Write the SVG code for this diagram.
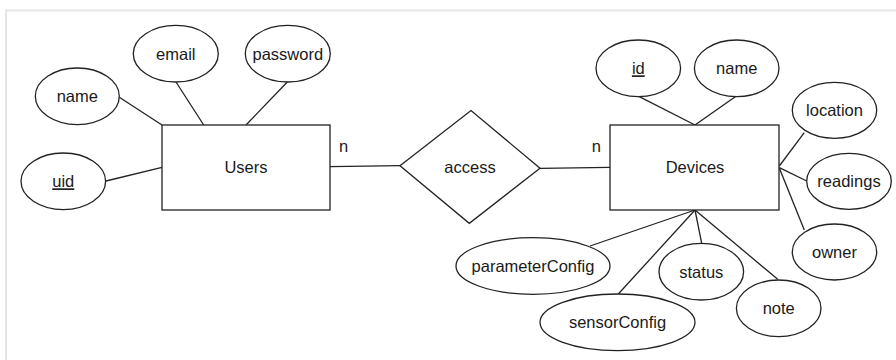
<svg xmlns="http://www.w3.org/2000/svg" width="896" height="360" viewBox="0 0 896 360">
<style>
.shape{fill:#fff;stroke:#222;stroke-width:1.3}
.edge{fill:none;stroke:#222;stroke-width:1.3}
text{font-family:"Liberation Sans",Arial,sans-serif;font-size:16.5px;fill:#1a1a1a;text-anchor:middle}
.key{text-decoration:underline}
</style>
<rect x="6" y="10.5" width="1000" height="500" fill="#fff" stroke="#e6e6e6" stroke-width="2"/>
<g id="connectors">
<line class="edge" x1="119.3" y1="97.3" x2="162" y2="125"/>
<line class="edge" x1="176" y1="82" x2="203.7" y2="125"/>
<line class="edge" x1="287.3" y1="82" x2="246" y2="125"/>
<line class="edge" x1="106" y1="181" x2="162" y2="167.3"/>
<line class="edge" x1="330" y1="166.7" x2="400" y2="165.7"/>
<line class="edge" x1="540" y1="168.3" x2="610" y2="167.3"/>
<line class="edge" x1="639.3" y1="96.7" x2="695" y2="125"/>
<line class="edge" x1="736" y1="96.3" x2="695" y2="125"/>
<line class="edge" x1="779.3" y1="166" x2="804.3" y2="132.7"/>
<line class="edge" x1="779.3" y1="167.7" x2="806.7" y2="181"/>
<line class="edge" x1="779.3" y1="168" x2="804.3" y2="230"/>
<line class="edge" x1="695" y1="210" x2="590" y2="246"/>
<line class="edge" x1="695" y1="210" x2="618.3" y2="294"/>
<line class="edge" x1="695" y1="210" x2="701.7" y2="243.3"/>
<line class="edge" x1="695" y1="210" x2="777.7" y2="279.3"/>
</g>
<g id="users"><rect class="shape" x="162" y="125" width="168" height="85"/><text x="246" y="173">Users</text></g>
<g id="users-name"><ellipse class="shape" cx="77.3" cy="96.3" rx="42" ry="28.3"/><text x="77.3" y="102.3">name</text></g>
<g id="users-email"><ellipse class="shape" cx="175.8" cy="53.7" rx="42.5" ry="28.3"/><text x="175.8" y="59.7">email</text></g>
<g id="users-password"><ellipse class="shape" cx="287.8" cy="53.7" rx="42.5" ry="28.3"/><text x="287.8" y="59.7">password</text></g>
<g id="users-uid"><ellipse class="shape" cx="63.3" cy="181.3" rx="42.3" ry="28.3"/><text class="key" x="63.3" y="187.3">uid</text></g>
<g id="access"><polygon class="shape" points="400,165.7 471,110.5 540,168.3 469.3,223.3"/><text x="470" y="172.5">access</text></g>
<g id="card-users"><text x="343.7" y="151.5">n</text></g>
<g id="card-devices"><text x="596.3" y="151.5">n</text></g>
<g id="devices"><rect class="shape" x="610" y="125" width="169" height="85"/><text x="695" y="173">Devices</text></g>
<g id="devices-id"><ellipse class="shape" cx="638.3" cy="68.3" rx="42.3" ry="28.3"/><text class="key" x="638.3" y="74.3">id</text></g>
<g id="devices-name"><ellipse class="shape" cx="736.7" cy="68.3" rx="42.3" ry="28.3"/><text x="736.7" y="74.3">name</text></g>
<g id="devices-location"><ellipse class="shape" cx="834.5" cy="110.3" rx="42.2" ry="28"/><text x="834.5" y="116.3">location</text></g>
<g id="devices-readings"><ellipse class="shape" cx="849" cy="181.3" rx="42.3" ry="28"/><text x="849" y="187.3">readings</text></g>
<g id="devices-owner"><ellipse class="shape" cx="834.5" cy="252" rx="42.2" ry="28"/><text x="834.5" y="258">owner</text></g>
<g id="devices-parameterConfig"><ellipse class="shape" cx="533" cy="266" rx="77" ry="28.3"/><text x="533" y="272">parameterConfig</text></g>
<g id="devices-sensorConfig"><ellipse class="shape" cx="617.5" cy="322.3" rx="77.5" ry="28.3"/><text x="617.5" y="328.3">sensorConfig</text></g>
<g id="devices-status"><ellipse class="shape" cx="701.3" cy="271.7" rx="42.3" ry="28.3"/><text x="701.3" y="277.7">status</text></g>
<g id="devices-note"><ellipse class="shape" cx="778.7" cy="308.3" rx="42.3" ry="28.3"/><text x="778.7" y="314.3">note</text></g>
</svg>
